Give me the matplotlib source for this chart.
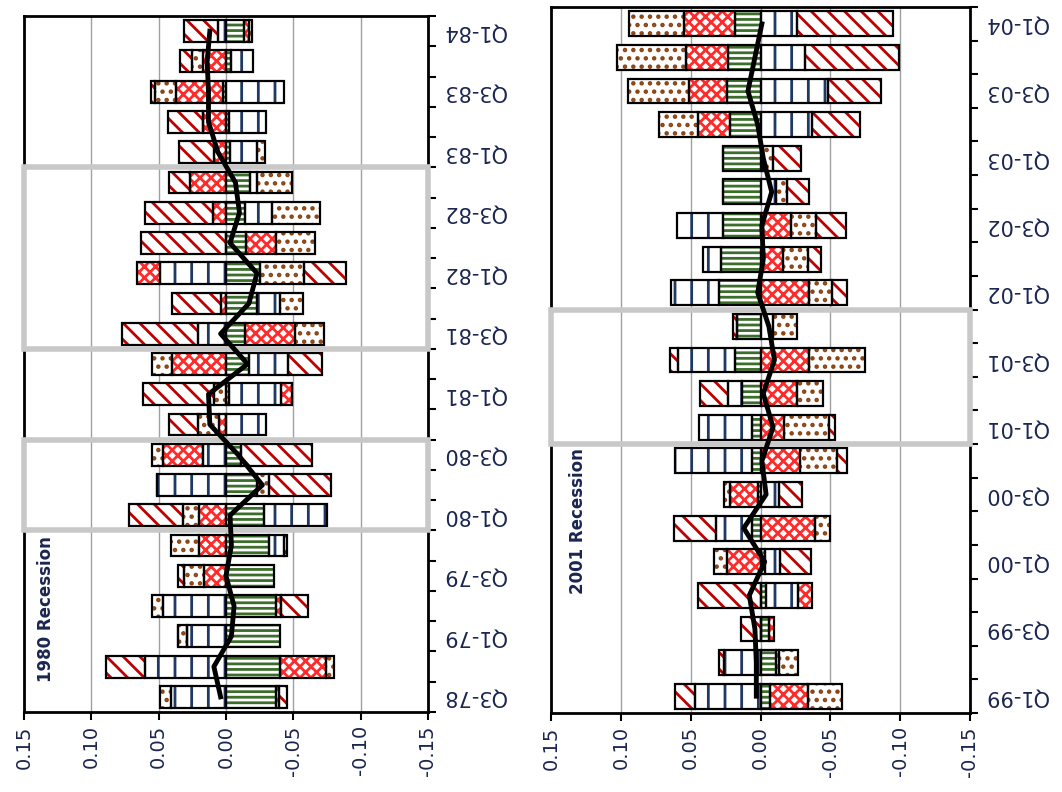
import matplotlib
matplotlib.use('Agg')
import matplotlib.pyplot as plt
from matplotlib.patches import Rectangle
import numpy as np

plt.rcParams['hatch.linewidth'] = 2.0

# 1980 panel, Q3-78 .. Q1-84 (component contributions)
q80 = ['Q3-78', 'Q4-78', 'Q1-79', 'Q2-79', 'Q3-79', 'Q4-79', 'Q1-80', 'Q2-80',
       'Q3-80', 'Q4-80', 'Q1-81', 'Q2-81', 'Q3-81', 'Q4-81', 'Q1-82', 'Q2-82',
       'Q3-82', 'Q4-82', 'Q1-83', 'Q2-83', 'Q3-83', 'Q4-83', 'Q1-84']
green80 = [-0.037, -0.040, -0.040, -0.037, -0.036, -0.032, -0.028, -0.023, -0.011, 0.0, -0.002, -0.017,
           -0.014, -0.023, -0.025, -0.015, -0.014, -0.018, -0.003, -0.002, 0.002, -0.004, -0.013]
blue80 = [0.041, 0.060, 0.029, 0.047, 0.0, -0.011, -0.047, 0.051, 0.017, -0.030, -0.039, -0.029,
          0.021, -0.017, 0.049, 0.0, -0.020, -0.005, -0.020, -0.028, -0.043, -0.016, 0.006]
wavy80 = [-0.002, -0.034, 0.0, -0.004, 0.016, 0.020, 0.020, 0.0, 0.030, 0.005, -0.008, 0.040,
          -0.037, 0.004, 0.017, -0.022, 0.010, 0.027, 0.009, 0.017, 0.035, 0.017, -0.004]
brown80 = [0.008, -0.006, 0.007, 0.008, 0.015, 0.021, 0.012, -0.009, 0.008, 0.016, 0.009, 0.015,
           -0.022, -0.017, -0.033, -0.029, -0.036, -0.026, -0.006, 0.0, 0.016, 0.008, -0.002]
diag80 = [-0.006, 0.029, 0.0, -0.020, 0.005, -0.002, 0.040, -0.046, -0.053, 0.021, 0.053, -0.025,
          0.056, 0.036, -0.031, 0.063, 0.050, 0.015, 0.026, 0.026, 0.003, 0.009, 0.025]

# 2001 panel, Q1-99 .. Q1-04
q01 = ['Q1-99', 'Q2-99', 'Q3-99', 'Q4-99', 'Q1-00', 'Q2-00', 'Q3-00', 'Q4-00', 'Q1-01',
       'Q2-01', 'Q3-01', 'Q4-01', 'Q1-02', 'Q2-02', 'Q3-02', 'Q4-02', 'Q1-03', 'Q2-03',
       'Q3-03', 'Q4-03', 'Q1-04']
green01 = [-0.007, -0.011, -0.006, -0.004, -0.003, 0.006, 0.002, 0.006, 0.006, 0.013, 0.018, 0.017,
           0.030, 0.028, 0.027, 0.027, 0.027, 0.022, 0.024, 0.023, 0.018]
blue01 = [0.047, 0.026, 0.0, -0.023, -0.011, 0.026, -0.013, 0.055, 0.038, 0.010, 0.041, -0.009,
          0.034, 0.013, 0.033, -0.011, -0.002, -0.037, -0.048, -0.032, -0.026]
wavy01 = [-0.027, -0.002, -0.004, -0.010, 0.024, -0.039, 0.020, -0.028, -0.017, -0.026, -0.035, 0.0,
          -0.035, -0.016, -0.022, 0.0, 0.0, 0.023, 0.027, 0.030, 0.037]
brown01 = [-0.024, -0.014, 0.0, 0.0, 0.009, -0.011, 0.004, -0.027, -0.032, -0.019, -0.040, -0.017,
           -0.016, -0.018, -0.018, -0.008, -0.007, 0.028, 0.044, 0.050, 0.039]
diag01 = [0.014, 0.004, 0.014, 0.045, -0.022, 0.030, -0.017, -0.007, -0.004, 0.020, 0.006, 0.003,
          -0.011, -0.009, -0.021, -0.016, -0.020, -0.034, -0.038, -0.067, -0.069]

styles = [('#3b6e2a', '---'), ('#1f3864', '|'), ('#ff2a2a', 'xxx'), ('#8b4513', '..'), ('#c00000', '\\\\')]
txt = '#1a2550'


def draw_panel(ax, labels, series, boxes, note, note_xy, height):
    n = len(labels)
    y = np.arange(n)
    pos = np.zeros(n)
    neg = np.zeros(n)
    for vals, (col, hatch) in zip(series, styles):
        v = np.array(vals)
        left = np.where(v >= 0, pos, neg)
        ax.barh(y, v, left=left, height=height, color='white', edgecolor=col, hatch=hatch, lw=0, zorder=2)
        ax.barh(y, v, left=left, height=height, fill=False, edgecolor='black', lw=1.6, zorder=3)
        pos += np.where(v >= 0, v, 0)
        neg += np.where(v < 0, v, 0)
    total = np.sum(np.array(series), axis=0)
    ax.plot(total, y, color='black', lw=3.5, zorder=5, solid_joinstyle='round')

    for y0, y1 in boxes:
        ax.add_patch(Rectangle((0.15, y0), -0.30, y1 - y0, fill=False, edgecolor='#c8c8c8',
                               lw=4, zorder=4, clip_on=False))

    ax.set_xlim(0.15, -0.15)
    ax.set_ylim(-0.5, n - 0.5)
    ax.set_xticks([0.15, 0.10, 0.05, 0.0, -0.05, -0.10, -0.15])
    ax.set_xticklabels(['0.15', '0.10', '0.05', '0.00', '-0.05', '-0.10', '-0.15'],
                       rotation=90, fontsize=14, color=txt)
    ax.grid(axis='x', color='#a0a0a0', lw=1, zorder=0)
    ax.yaxis.tick_right()
    ax.set_yticks(y[::2])
    ax.set_yticklabels(labels[::2], rotation=180, fontsize=15, color=txt, va='center')
    ax.set_yticks(np.arange(n + 1) - 0.5, minor=True)
    ax.tick_params(axis='y', which='major', length=0, pad=10)
    ax.tick_params(axis='y', which='minor', length=6, width=1.5, direction='out')
    ax.tick_params(axis='x', length=6, width=1.5, direction='out')
    for s in ax.spines.values():
        s.set_linewidth(2)
    ax.text(note_xy[0], note_xy[1], note, rotation=90, fontsize=12, fontweight='bold',
            color=txt, ha='center', va='center', zorder=6)


fig = plt.figure(figsize=(10.62, 7.92), dpi=100)
ax1 = fig.add_axes([24 / 1062, 80 / 792, 404 / 1062, 696 / 792])
ax2 = fig.add_axes([551 / 1062, 79 / 792, 419 / 1062, 706 / 792])

draw_panel(ax1, q80, [green80, blue80, wavy80, brown80, diag80],
           [(5.5, 8.5), (11.5, 17.5)], '1980 Recession', (0.134, 2.9), 0.72)
draw_panel(ax2, q01, [green01, blue01, wavy01, brown01, diag01],
           [(7.5, 11.5)], '2001 Recession', (0.131, 5.2), 0.74)

plt.savefig('out.png', dpi=100)
